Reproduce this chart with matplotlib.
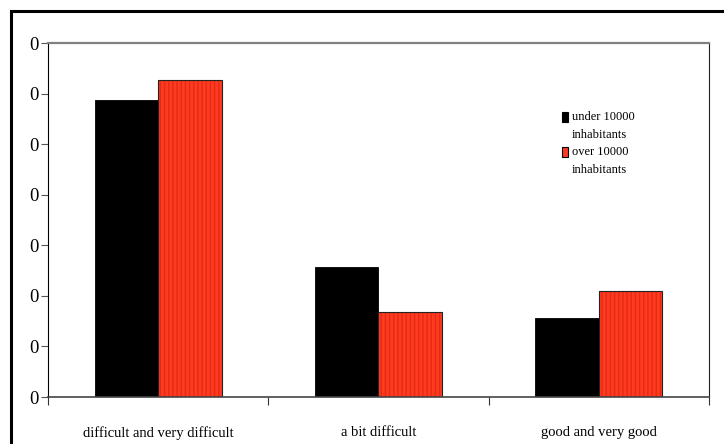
import matplotlib.pyplot as plt
from matplotlib import ticker
from matplotlib.patches import Rectangle
import numpy as np

plt.rcParams['font.family'] = ['Liberation Serif', 'DejaVu Serif']

categories = ['difficult and very difficult', 'a bit difficult', 'good and very good']
series_names = ['under 10000\ninhabitants', 'over 10000\ninhabitants']
under_10000 = [0.587, 0.257, 0.156]
over_10000 = [0.626, 0.168, 0.210]
y_ticks = [0.0, 0.1, 0.2, 0.3, 0.4, 0.5, 0.6, 0.7]

W, H = 724, 444
fig = plt.figure(figsize=(W / 100, H / 100), dpi=100)

# outer frame (cut off on right and bottom like the original)
fig.patches.append(Rectangle((11 / W, -0.05), 1.2, (H - 11) / H + 0.05,
                             transform=fig.transFigure, fill=False,
                             edgecolor='black', linewidth=2.2))

ax = fig.add_axes([48 / W, (H - 397) / H, (709 - 48) / W, (397 - 43) / H])

x = np.arange(len(categories))
bw = 0.288
ax.bar(x - bw / 2, under_10000, bw, color='black', edgecolor='black', linewidth=0.6)
# red bars with faint vertical stripes
ax.bar(x + bw / 2, over_10000, bw, color='#FF3A20', edgecolor='#E22C14',
       linewidth=0, hatch='||||')
ax.bar(x + bw / 2, over_10000, bw, fill=False, edgecolor='#222222', linewidth=0.8)

ax.set_xlim(-0.5, len(categories) - 0.5)
ax.set_ylim(0, 0.7)
ax.set_yticks(y_ticks)
# the original shows every value truncated to a whole number
ax.yaxis.set_major_formatter(ticker.FuncFormatter(lambda v, p: str(int(v))))
ax.set_xticks(np.arange(len(categories) + 1) - 0.5)
ax.set_xticklabels([])
ax.set_xticks(x, minor=True)
ax.set_xticklabels(categories, minor=True)
ax.tick_params(axis='x', which='minor', length=0, pad=21, labelsize=10.5)
ax.tick_params(axis='x', which='major', length=6, direction='out', color='#333333')
ax.tick_params(axis='y', length=5, direction='out', labelsize=13.5, pad=2, color='#555555')

ax.spines['top'].set_color('#808080')
ax.spines['top'].set_linewidth(1.6)
ax.spines['left'].set_color('black')
ax.spines['right'].set_color('#222222')
ax.spines['bottom'].set_color('#444444')
ax.spines['bottom'].set_linewidth(1.2)

# legend
leg_colors = ['black', '#FF3A20']
leg_y = [117, 152]
for name, c, yy in zip(series_names, leg_colors, leg_y):
    ax.add_patch(Rectangle(((562 - 48) / 661, (397 - yy - 5) / 354), 6 / 661, 10 / 354,
                           transform=ax.transAxes, facecolor=c, edgecolor='black',
                           linewidth=0.8))
    ax.text((572 - 48) / 661, (397 - yy + 6) / 354, name, transform=ax.transAxes,
            fontsize=9, va='top', ha='left', linespacing=1.7)

fig.savefig('out.png', dpi=100)
